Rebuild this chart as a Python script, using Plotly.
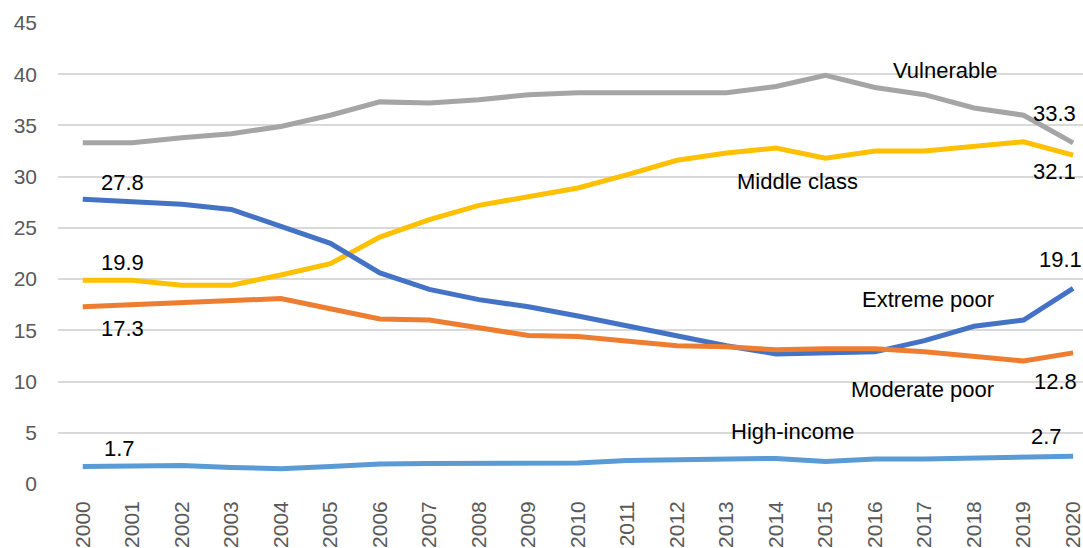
import plotly.graph_objects as go

years = list(range(2000, 2021))
vulnerable = [33.3, 33.3, 33.8, 34.2, 34.9, 36.0, 37.3, 37.2, 37.5, 38.0, 38.2, 38.2, 38.2, 38.2, 38.8, 39.9, 38.7, 38.0, 36.7, 36.0, 33.3]
middle_class = [19.9, 19.9, 19.4, 19.4, 20.4, 21.5, 24.1, 25.8, 27.2, 28.0, 28.9, 30.2, 31.6, 32.3, 32.8, 31.8, 32.5, 32.5, 33.0, 33.4, 32.1]
extreme_poor = [27.8, 27.6, 27.3, 26.8, 25.1, 23.5, 20.6, 19.0, 18.0, 17.3, 16.4, 15.4, 14.4, 13.5, 12.7, 12.8, 12.9, 14.0, 15.4, 16.0, 19.1]
moderate_poor = [17.3, 17.5, 17.7, 18.0, 18.1, 17.1, 16.1, 16.0, 15.3, 14.5, 14.4, 13.9, 13.5, 13.4, 13.1, 13.2, 13.2, 12.9, 12.4, 12.0, 12.8]
high_income = [1.7, 1.75, 1.8, 1.6, 1.5, 1.7, 1.95, 2.0, 2.05, 2.05, 2.05, 2.3, 2.35, 2.5, 2.5, 2.2, 2.45, 2.45, 2.55, 2.55, 2.7]

series = [
    ("Vulnerable", vulnerable, "#A5A5A5"),
    ("Middle class", middle_class, "#FFC000"),
    ("Extreme poor", extreme_poor, "#4472C4"),
    ("Moderate poor", moderate_poor, "#ED7D31"),
    ("High-income", high_income, "#5B9BD5"),
]

# label text, x (data), y (data)
labels = [
    ("27.8", 2000.8, 29.4),
    ("19.9", 2000.8, 21.6),
    ("17.3", 2000.8, 15.2),
    ("1.7", 2000.75, 3.5),
    ("Vulnerable", 2017.41, 40.4),
    ("33.3", 2019.62, 36.2),
    ("Middle class", 2014.43, 29.5),
    ("32.1", 2019.62, 30.5),
    ("19.1", 2019.75, 21.9),
    ("Extreme poor", 2017.06, 18.0),
    ("Moderate poor", 2016.95, 9.2),
    ("12.8", 2019.64, 10.0),
    ("High-income", 2014.34, 5.1),
    ("2.7", 2019.47, 4.6),
]

fig = go.Figure()
for name, vals, color in series:
    fig.add_trace(go.Scatter(
        x=years, y=vals, mode="lines", name=name,
        line=dict(color=color, width=5, shape="linear"),
        hoverinfo="skip", cliponaxis=False,
    ))

ann_font = dict(family="Liberation Sans Narrow, Arial Narrow, Liberation Sans, Arial", size=22, color="#000000")
for text, x, y in labels:
    fig.add_annotation(x=x, y=y, text=text, showarrow=False, font=ann_font,
                       xanchor="center", yanchor="middle")

fig.update_layout(
    width=1083, height=548,
    margin=dict(l=58, r=0, t=23, b=64),
    paper_bgcolor="white", plot_bgcolor="white",
    showlegend=False,
    font=dict(family="Liberation Sans, Arial", color="#595959", size=21),
)
fig.update_xaxes(
    range=[1999.5, 2020.2], tickmode="array", tickvals=years,
    ticktext=[str(y) for y in years], tickangle=-90,
    showgrid=False, zeroline=False, showline=False, ticks="",
    tickfont=dict(size=21, color="#595959"), ticklabelstandoff=12,
    ticklabeloverflow="allow",
)
fig.update_yaxes(
    range=[0, 45], tickmode="array", tickvals=list(range(0, 50, 5)),
    showgrid=True, gridcolor="#D9D9D9", gridwidth=2,
    zeroline=False, showline=False, ticks="",
    tickfont=dict(size=21, color="#595959"), ticklabelstandoff=20,
)
fig.write_html("out.html")
